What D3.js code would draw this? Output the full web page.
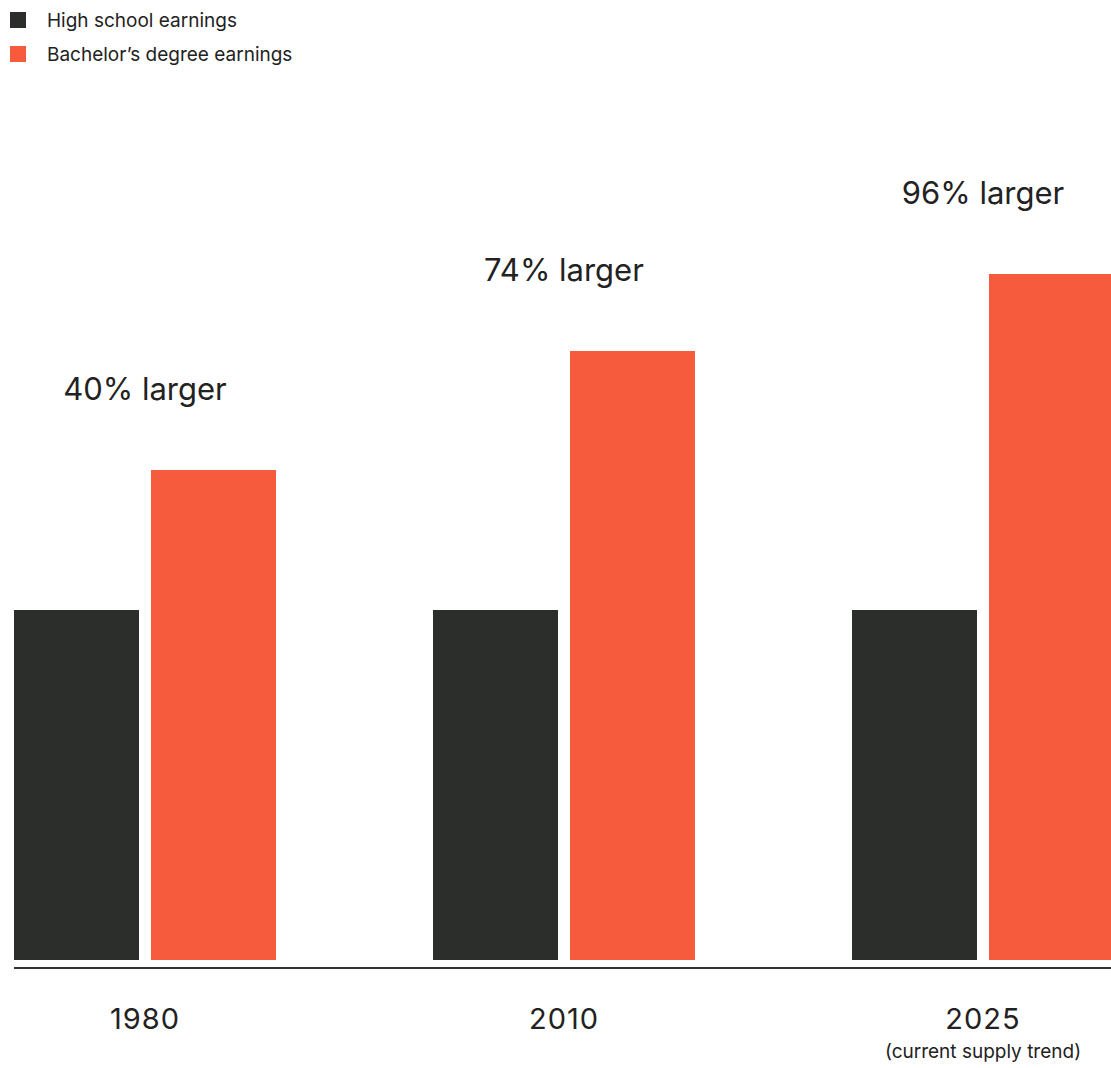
<!DOCTYPE html>
<html>
<head>
<meta charset="utf-8">
<script src="https://cdn.jsdelivr.net/npm/d3@7"></script>
<style>
  body { margin: 0; background: #fff; }
  svg { display: block; font-family: Inter, "Noto Sans", sans-serif; }
</style>
</head>
<body>
<div id="chart"></div>
<script>
const years = ["1980", "2010", "2025"];
const yearNotes = ["", "", "(current supply trend)"];
const series = ["High school earnings", "Bachelor’s degree earnings"];
const highSchool = [100, 100, 100];
const bachelors = [140, 174, 196];
const gapLabels = ["40% larger", "74% larger", "96% larger"];

const colors = ["#2c2e2b", "#f65b3e"];
const width = 1111, height = 1068;
const baseY = 960;

const svg = d3.select("#chart").append("svg")
    .attr("width", width)
    .attr("height", height);

// groups: step 419, bars 125 wide, 12 apart; last group runs off the right edge
const x0 = d3.scaleBand().domain(years).range([14, 1114])
    .paddingInner(157 / 419).paddingOuter(0);
const x1 = d3.scaleBand().domain(series).range([0, x0.bandwidth()])
    .paddingInner(0.0876).paddingOuter(0);
const y = d3.scaleLinear().domain([0, 100]).range([baseY, 610]);

const rows = years.map((yr, i) => ({
    year: yr,
    note: yearNotes[i],
    label: gapLabels[i],
    values: [highSchool[i], bachelors[i]]
}));

const groups = svg.append("g").selectAll("g")
    .data(rows)
    .join("g")
    .attr("transform", d => `translate(${x0(d.year)},0)`);

groups.selectAll("rect")
    .data(d => d.values.map((v, j) => ({ key: series[j], v, j })))
    .join("rect")
    .attr("x", d => x1(d.key))
    .attr("y", d => y(d.v))
    .attr("width", x1.bandwidth())
    .attr("height", d => baseY - y(d.v))
    .attr("fill", d => colors[d.j]);

const mid = x0.bandwidth() / 2;

groups.append("text")
    .attr("x", mid)
    .attr("y", d => y(d.values[1]) - 70)
    .attr("text-anchor", "middle")
    .attr("font-size", 31)
    .attr("fill", "#222")
    .text(d => d.label);

groups.append("text")
    .attr("x", mid)
    .attr("y", 1029)
    .attr("text-anchor", "middle")
    .attr("font-size", 29)
    .attr("letter-spacing", 1)
    .attr("fill", "#222")
    .text(d => d.year);

groups.append("text")
    .attr("x", mid)
    .attr("y", 1058)
    .attr("text-anchor", "middle")
    .attr("font-size", 19)
    .attr("fill", "#222")
    .text(d => d.note);

// baseline
svg.append("line")
    .attr("x1", 14).attr("x2", width)
    .attr("y1", 968).attr("y2", 968)
    .attr("stroke", "#333")
    .attr("stroke-width", 2);

// legend
const legend = svg.append("g").selectAll("g")
    .data(series)
    .join("g")
    .attr("transform", (d, i) => `translate(10, ${12 + i * 34})`);

legend.append("rect")
    .attr("width", 16).attr("height", 16)
    .attr("fill", (d, i) => colors[i]);

legend.append("text")
    .attr("x", 37)
    .attr("y", 15)
    .attr("font-size", 19)
    .attr("fill", "#222")
    .text(d => d);
</script>
</body>
</html>
